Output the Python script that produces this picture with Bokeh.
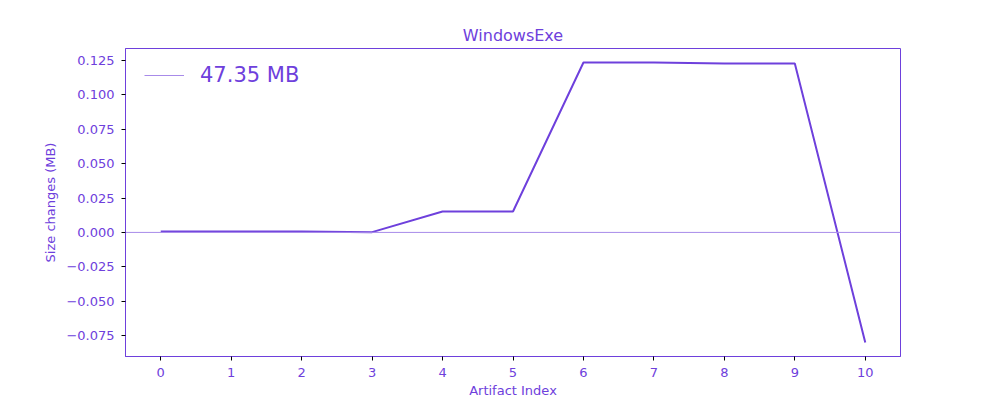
from bokeh.plotting import figure
from bokeh.models import Range1d, FixedTicker, Span, Legend, LegendItem, CustomJSTickFormatter
from bokeh.embed import file_html
from bokeh.resources import INLINE

artifact_index = [0, 1, 2, 3, 4, 5, 6, 7, 8, 9, 10]
size_changes = [0.0007, 0.0007, 0.0006, 0.0002, 0.0152, 0.0152, 0.1235, 0.1235, 0.1228, 0.1228, -0.0800]
y_ticks = [-0.075, -0.050, -0.025, 0.000, 0.025, 0.050, 0.075, 0.100, 0.125]
legend_label = "47.35 MB"

MAIN = "#6e40dc"
LIGHT = "#a88be9"
FONT = "DejaVu Sans"

p = figure(width=1000, height=400, output_backend="svg", toolbar_location=None,
           x_range=Range1d(-0.5, 10.5), y_range=Range1d(-0.0902, 0.1337),
           min_border_left=125, min_border_right=100, min_border_top=48, min_border_bottom=44,
           title="WindowsExe")
p.title.align = "center"
p.title.text_color = MAIN
p.title.text_font = FONT
p.title.text_font_size = "16px"
p.title.text_font_style = "normal"
p.title.standoff = 7

p.grid.visible = False
p.outline_line_color = MAIN
p.outline_line_width = 1
p.background_fill_color = "white"
p.border_fill_color = "white"

for ax in (p.xaxis[0], p.yaxis[0]):
    ax.axis_line_color = MAIN
    ax.major_tick_line_color = "black"
    ax.minor_tick_line_color = None
    ax.major_tick_out = 4
    ax.major_tick_in = 0
    ax.major_label_text_color = MAIN
    ax.major_label_text_font = FONT
    ax.major_label_text_font_size = "13px"
    ax.axis_label_text_color = MAIN
    ax.axis_label_text_font = FONT
    ax.axis_label_text_font_size = "13px"
    ax.axis_label_text_font_style = "normal"

p.xaxis.ticker = FixedTicker(ticks=artifact_index)
p.xaxis.axis_label = "Artifact Index"
p.xaxis.major_label_standoff = 7
p.xaxis.axis_label_standoff = 3
p.yaxis.ticker = FixedTicker(ticks=y_ticks)
p.yaxis.formatter = CustomJSTickFormatter(code="return (tick < 0 ? '\u2212' : '') + Math.abs(tick).toFixed(3);")
p.yaxis.axis_label = "Size changes (MB)"
p.yaxis.major_label_standoff = 7
p.yaxis.axis_label_standoff = 5

zero = Span(location=0, dimension="width", line_color=LIGHT, line_width=1)
p.add_layout(zero)

r = p.line(artifact_index, size_changes, line_color=MAIN, line_width=2)

dummy = p.line([None], [None], line_color=LIGHT, line_width=1.2)
legend = Legend(items=[LegendItem(label=legend_label, renderers=[dummy])],
                location=(19, 269), border_line_color=None, background_fill_alpha=0,
                label_text_color=MAIN, label_text_font=FONT, label_text_font_size="21px",
                glyph_width=40, glyph_height=20, label_standoff=16, padding=0,
                margin=0, spacing=0)
p.add_layout(legend)

open("out.html", "w").write(file_html(p, INLINE))
